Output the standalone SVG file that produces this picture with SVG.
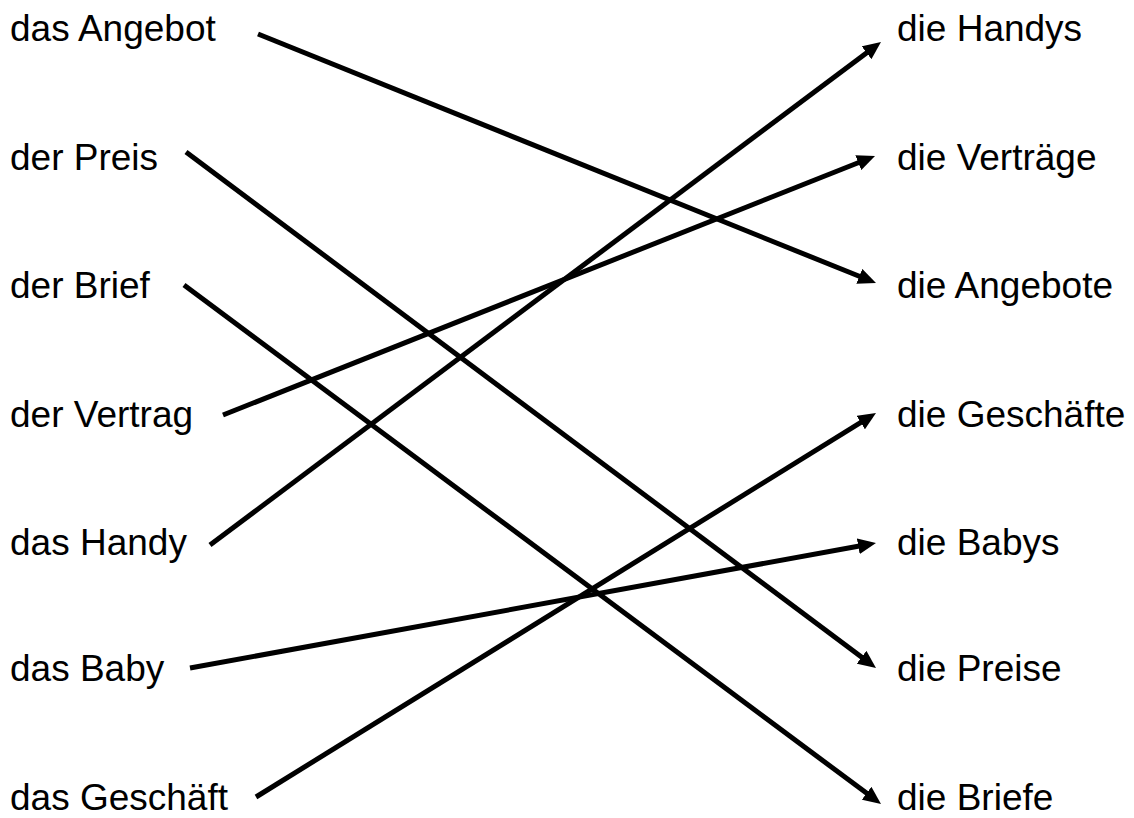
<svg xmlns="http://www.w3.org/2000/svg" width="1134" height="818" viewBox="0 0 1134 818">
<style>
text{font-family:"Liberation Sans",Arial,sans-serif;font-size:37px;fill:#000}
.c line{stroke:#000;stroke-width:5;fill:none}
</style>
<defs>
<marker id="ah" markerUnits="userSpaceOnUse" markerWidth="18" markerHeight="16" viewBox="0 0 18 16" refX="4" refY="8" orient="auto">
<path d="M0,0 L18,8 L0,16 z" fill="#000"/>
</marker>
</defs>
<rect width="1134" height="818" fill="#fff"/>
<g id="left">
<g id="l1"><text x="10" y="41">das Angebot</text></g>
<g id="l2"><text x="10" y="170">der Preis</text></g>
<g id="l3"><text x="10" y="298">der Brief</text></g>
<g id="l4"><text x="10" y="427">der Vertrag</text></g>
<g id="l5"><text x="10" y="555">das Handy</text></g>
<g id="l6"><text x="10" y="681">das Baby</text></g>
<g id="l7"><text x="10" y="810">das Geschäft</text></g>
</g>
<g id="right">
<g id="r1"><text x="897" y="41">die Handys</text></g>
<g id="r2"><text x="897" y="170">die Verträge</text></g>
<g id="r3"><text x="897" y="298">die Angebote</text></g>
<g id="r4"><text x="897" y="427">die Geschäfte</text></g>
<g id="r5"><text x="897" y="555">die Babys</text></g>
<g id="r6"><text x="897" y="681">die Preise</text></g>
<g id="r7"><text x="897" y="810">die Briefe</text></g>
</g>
<g id="connectors" class="c">
<line x1="258" y1="34" x2="863.0" y2="277.8" marker-end="url(#ah)"/>
<line x1="186" y1="152" x2="864.8" y2="659.6" marker-end="url(#ah)"/>
<line x1="184" y1="285" x2="869.8" y2="795.6" marker-end="url(#ah)"/>
<line x1="223" y1="415" x2="862.0" y2="161.2" marker-end="url(#ah)"/>
<line x1="210" y1="545" x2="869.8" y2="50.4" marker-end="url(#ah)"/>
<line x1="190" y1="668" x2="862.2" y2="545.5" marker-end="url(#ah)"/>
<line x1="256" y1="797" x2="864.1" y2="420.4" marker-end="url(#ah)"/>
</g>
</svg>
